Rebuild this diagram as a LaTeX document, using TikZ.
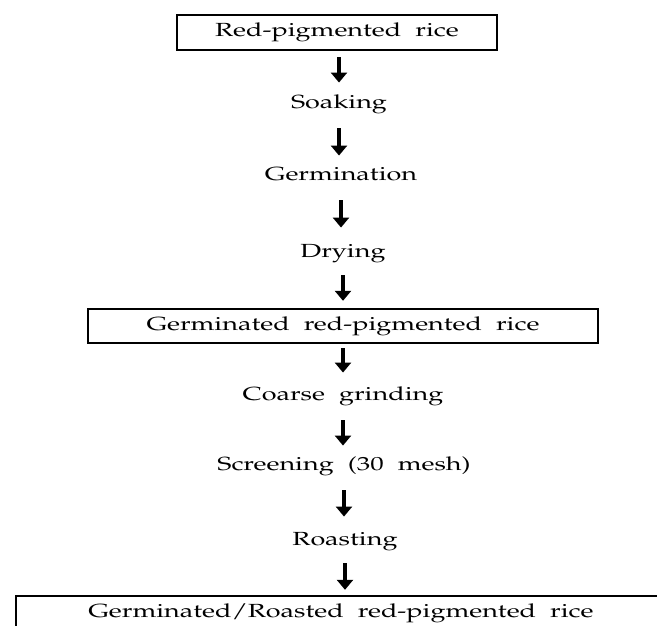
\documentclass[tikz,border=0pt]{standalone}
\usepackage[T1]{fontenc}
\usepackage{mathpazo}
\usetikzlibrary{arrows.meta}

% wide text, as the figure is stretched sideways
\newcommand{\wtext}[1]{\scalebox{1.42}[1]{#1}}
\newcommand{\stepfontcmd}{\fontsize{19}{22}\selectfont\spaceskip 0.52em\relax}

\tikzset{
  stepfont/.style={font=\stepfontcmd},
  stepbox/.style={stepfont, draw, line width=2.4pt, inner sep=0pt},
  steptext/.style={stepfont, inner sep=0pt, text height=13.5pt, text depth=4pt},
  flow/.style={line width=3.5pt, -{Triangle[width=16pt,length=10pt]}}
}

\begin{document}
\begin{tikzpicture}[x=1pt,y=-1pt]

    \useasboundingbox (0,0) rectangle (657,625);
    \clip (0,0) rectangle (657,625);

    % --- Boxes ---
    \node[stepbox, minimum width=320pt, minimum height=35pt] (rice) at (337,32.5) {\wtext{Red-pigmented rice}};
    \node[stepbox, minimum width=510pt, minimum height=34pt] (grice) at (343,326) {\wtext{Germinated red-pigmented rice}};
    % last box runs off the page
    \node[stepbox, minimum width=650pt, minimum height=35pt] (final) at (341,613.5) {\wtext{Germinated/Roasted red-pigmented rice}};

    % --- Process steps ---
    \node[steptext] (soak) at (339,103.5) {\wtext{Soaking}};
    \node[steptext] (germ) at (341,175.5) {\wtext{Germination}};
    \node[steptext] (dry) at (343,252.5) {\wtext{Drying}};
    \node[steptext] (grind) at (343,395.5) {\wtext{Coarse grinding}};
    \node[steptext] (screen) at (344,465.5) {\wtext{Screening (30 mesh)}};
    \node[steptext] (roast) at (345,540.5) {\wtext{Roasting}};

    % --- Arrows ---
    \draw[flow, shorten <=6pt, shorten >=12pt] (rice.south -| soak) -- (soak.north);
    \draw[flow, shorten <=16pt, shorten >=11pt] (soak.south) -- (germ.north -| soak);
    \draw[flow, shorten <=16pt, shorten >=16pt] (germ.south) -- (dry.north -| germ);
    \draw[flow, shorten <=14pt, shorten >=7pt] (dry.south) -- (grice.north -| dry);
    \draw[flow, shorten <=4pt, shorten >=14pt] (grice.south -| grind) -- (grind.north);
    \draw[flow, shorten <=16pt, shorten >=11pt] (grind.south) -- (screen.north -| grind);
    \draw[flow, shorten <=16pt, shorten >=15pt] (screen.south) -- (roast.north -| screen);
    \draw[flow, shorten <=14pt, shorten >=5pt] (roast.south) -- (final.north -| roast);

\end{tikzpicture}
\end{document}
